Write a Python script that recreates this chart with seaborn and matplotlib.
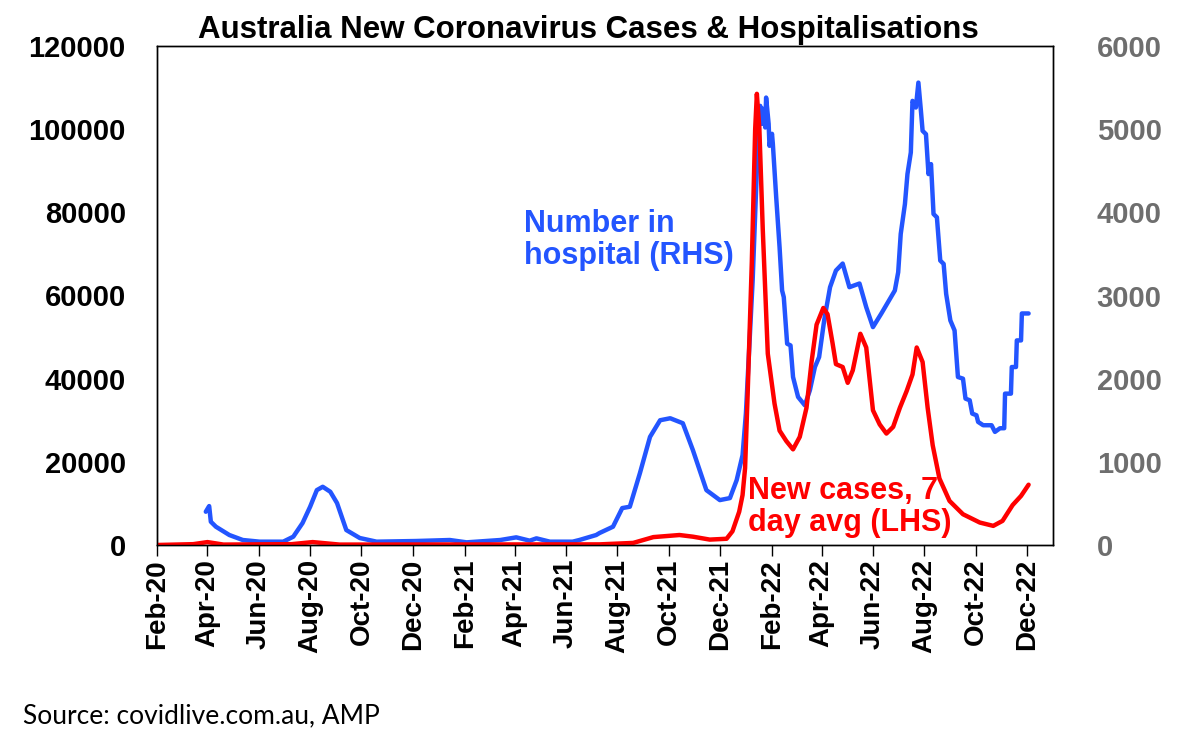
import pandas as pd
import seaborn as sns
import matplotlib.pyplot as plt
import matplotlib.dates as mdates

# number in hospital (RHS)
hosp_dates = ['2020-03-30', '2020-04-03', '2020-04-05', '2020-04-11', '2020-04-27', '2020-05-13',
              '2020-06-02', '2020-06-30', '2020-07-12', '2020-07-23', '2020-08-01', '2020-08-09',
              '2020-08-16', '2020-08-25', '2020-09-02', '2020-09-13', '2020-09-29', '2020-10-19',
              '2020-12-05', '2021-01-14', '2021-02-03', '2021-03-15', '2021-04-03', '2021-04-19',
              '2021-04-27', '2021-05-13', '2021-06-09', '2021-06-17', '2021-07-07', '2021-07-11',
              '2021-07-27', '2021-08-07', '2021-08-16', '2021-08-28', '2021-09-09', '2021-09-21',
              '2021-10-03', '2021-10-18', '2021-10-30', '2021-11-15', '2021-12-01', '2021-12-13',
              '2021-12-21', '2021-12-28', '2022-01-01', '2022-01-09', '2022-01-15', '2022-01-18',
              '2022-01-20', '2022-01-22', '2022-01-24', '2022-01-25', '2022-01-28', '2022-01-29',
              '2022-02-01', '2022-02-02', '2022-02-06', '2022-02-10', '2022-02-13', '2022-02-15',
              '2022-02-19', '2022-02-23', '2022-02-26', '2022-03-04', '2022-03-12', '2022-03-18',
              '2022-03-24', '2022-03-29', '2022-04-04', '2022-04-11', '2022-04-18', '2022-04-26',
              '2022-05-04', '2022-05-16', '2022-05-24', '2022-06-01', '2022-06-11', '2022-06-27',
              '2022-07-01', '2022-07-04', '2022-07-09', '2022-07-12', '2022-07-16', '2022-07-18',
              '2022-07-22', '2022-07-25', '2022-07-28', '2022-07-30', '2022-08-03', '2022-08-06',
              '2022-08-09', '2022-08-12', '2022-08-16', '2022-08-20', '2022-08-24', '2022-08-27',
              '2022-09-01', '2022-09-06', '2022-09-10', '2022-09-16', '2022-09-19', '2022-09-24',
              '2022-09-27', '2022-10-02', '2022-10-04', '2022-10-10', '2022-10-20', '2022-10-24',
              '2022-10-30', '2022-11-04', '2022-11-05', '2022-11-12', '2022-11-13', '2022-11-18',
              '2022-11-19', '2022-11-24', '2022-11-25', '2022-12-03']
hosp_values = [400, 468, 280, 220, 120, 60,
               40, 40, 100, 264, 460, 660,
               700, 640, 504, 180, 84, 40,
               48, 60, 32, 60, 92, 52,
               80, 40, 40, 60, 120, 144,
               220, 444, 460, 864, 1300, 1500,
               1524, 1464, 1140, 660, 540, 564,
               780, 1080, 1584, 3180, 4780, 5280,
               5064, 5244, 5020, 5380, 5064, 4800,
               4944, 4824, 4180, 3580, 3060, 2980,
               2420, 2400, 2020, 1780, 1680, 1860,
               2140, 2260, 2700, 3100, 3300, 3384,
               3100, 3144, 2860, 2620, 2784, 3060,
               3280, 3740, 4100, 4460, 4720, 5340,
               5260, 5560, 5220, 4980, 4940, 4460,
               4580, 3980, 3940, 3420, 3380, 3020,
               2700, 2580, 2020, 2000, 1760, 1740,
               1580, 1560, 1480, 1440, 1440, 1360,
               1404, 1404, 1820, 1820, 2140, 2140,
               2460, 2460, 2784, 2784]

# new cases, 7 day average (LHS)
case_dates = ['2020-02-01', '2020-03-15', '2020-04-01', '2020-04-20', '2020-07-10', '2020-08-04',
              '2020-09-05', '2021-07-11', '2021-08-20', '2021-09-13', '2021-10-14', '2021-10-30',
              '2021-11-19', '2021-12-09', '2021-12-16', '2021-12-24', '2021-12-28', '2021-12-31',
              '2022-01-03', '2022-01-08', '2022-01-12', '2022-01-14', '2022-01-17', '2022-01-21',
              '2022-01-27', '2022-02-04', '2022-02-10', '2022-02-18', '2022-02-26', '2022-03-06',
              '2022-03-14', '2022-03-20', '2022-03-26', '2022-04-03', '2022-04-08', '2022-04-14',
              '2022-04-18', '2022-04-26', '2022-05-02', '2022-05-08', '2022-05-17', '2022-05-24',
              '2022-06-01', '2022-06-09', '2022-06-17', '2022-06-25', '2022-07-03', '2022-07-11',
              '2022-07-18', '2022-07-23', '2022-07-30', '2022-08-05', '2022-08-11', '2022-08-19',
              '2022-08-31', '2022-09-16', '2022-10-06', '2022-10-22', '2022-11-02', '2022-11-14',
              '2022-11-24', '2022-12-03']
case_values = [0, 200, 700, 100, 200, 700,
               100, 150, 500, 1900, 2400, 2000,
               1300, 1500, 3300, 8000, 12000, 18500,
               36000, 68000, 100000, 108500, 100000, 76000,
               46000, 34000, 27500, 25000, 23000, 26000,
               33000, 44000, 53000, 57000, 55500, 48500,
               43500, 42800, 39000, 42000, 50800, 47500,
               32400, 29000, 26800, 28400, 33000, 37000,
               41000, 47500, 44000, 33000, 24000, 16000,
               10600, 7400, 5400, 4600, 5800, 9600,
               11800, 14500]

hosp = pd.DataFrame({'date': pd.to_datetime(hosp_dates), 'value': hosp_values})
cases = pd.DataFrame({'date': pd.to_datetime(case_dates), 'value': case_values})

sns.set_style('white')
plt.rcParams['font.family'] = ['Liberation Sans', 'DejaVu Sans']

blue = '#2355ff'
red = '#ff0000'

fig = plt.figure(figsize=(11.94, 7.48), dpi=100)
ax = fig.add_axes([157 / 1194, 1 - 545 / 748, (1053 - 157) / 1194, (545 - 46) / 748])
ax2 = ax.twinx()

sns.lineplot(data=cases, x='date', y='value', ax=ax, color=red, linewidth=3.2)
sns.lineplot(data=hosp, x='date', y='value', ax=ax2, color=blue, linewidth=3.2)
ax.set_zorder(ax2.get_zorder() + 1)
ax.patch.set_visible(False)

ax.set_xlim(pd.Timestamp('2020-02-01'), pd.Timestamp('2023-01-01'))
ax.set_ylim(0, 120000)
ax2.set_ylim(0, 6000)
ax.set_yticks(range(0, 120001, 20000))
ax2.set_yticks(range(0, 6001, 1000))
ax.xaxis.set_major_locator(mdates.MonthLocator(bymonth=[2, 4, 6, 8, 10, 12]))
ax.xaxis.set_major_formatter(mdates.DateFormatter('%b-%y'))

ax.set_xlabel('')
ax.set_ylabel('')
ax2.set_ylabel('')

for a in (ax, ax2):
    for s in a.spines.values():
        s.set_color('black')
        s.set_linewidth(1.0)

ax.tick_params(axis='x', bottom=True, length=8, width=1, direction='out', pad=2,
               labelsize=20, labelrotation=90, labelcolor='black', color='black')
ax.tick_params(axis='y', left=False, pad=19, labelsize=21, labelcolor='black')
ax2.tick_params(axis='y', right=False, pad=28, labelsize=21, labelcolor='#6e6e6e')
for lbl in ax.get_xticklabels() + ax.get_yticklabels() + ax2.get_yticklabels():
    lbl.set_fontweight('bold')

fig.text(588 / 1194, 1 - 30 / 748, 'Australia New Coronavirus Cases & Hospitalisations',
         ha='center', va='center', fontsize=22.5, fontweight='bold', color='black')

fig.text(524 / 1194, 1 - 240 / 748, 'Number in\nhospital (RHS)', color=blue,
         ha='left', va='center', fontsize=22, fontweight='bold', linespacing=1.05)
fig.text(748 / 1194, 1 - 507 / 748, 'New cases, 7\nday avg (LHS)', color=red,
         ha='left', va='center', fontsize=22, fontweight='bold', linespacing=1.05)

fig.text(23 / 1194, 1 - 723 / 748, 'Source: covidlive.com.au, AMP', ha='left', va='baseline',
         fontsize=19, family=['Lato', 'DejaVu Sans'], color='black')

fig.savefig('out.png', dpi=100)
